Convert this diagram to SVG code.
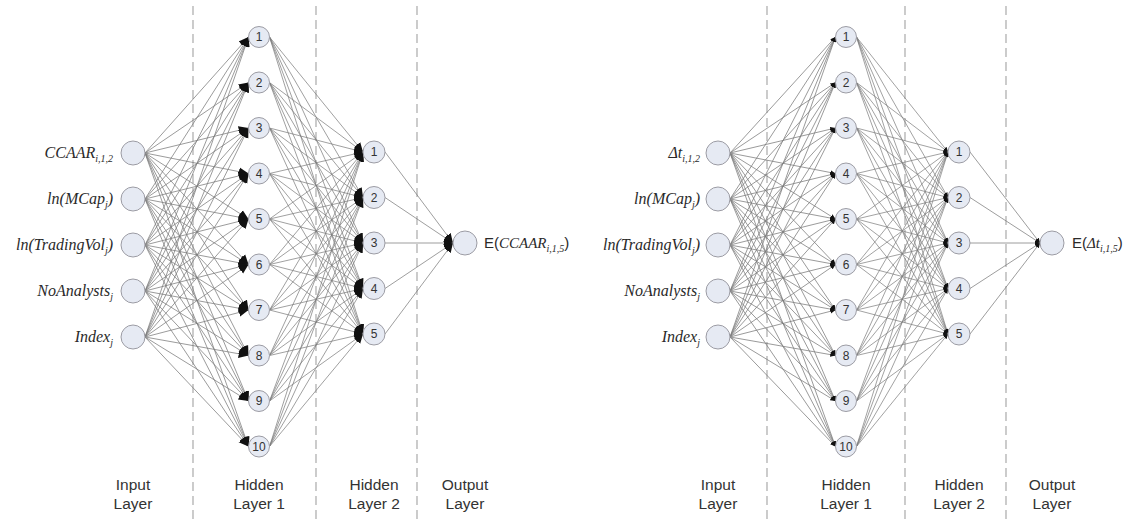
<svg xmlns="http://www.w3.org/2000/svg" xmlns:xlink="http://www.w3.org/1999/xlink" width="1130" height="527" viewBox="0 0 1130 527">
<style>
.n{fill:#e6eaf3;stroke:#9c9ca4;stroke-width:1}
.num{font-family:"Liberation Sans",Arial,sans-serif;font-size:12px;fill:#333;text-anchor:middle}
.inl{font-family:"Liberation Serif","Times New Roman",serif;font-style:italic;font-size:16px;fill:#2a2a2a;text-anchor:end}
.sub{font-size:10px}
.outl{font-family:"Liberation Sans",Arial,sans-serif;font-size:15px;fill:#2a2a2a}
.it{font-family:"Liberation Serif","Times New Roman",serif;font-style:italic}
.lay{font-family:"Liberation Sans",Arial,sans-serif;font-size:15.5px;fill:#333;text-anchor:middle}
.dash{stroke:#aaa;stroke-width:1.2;stroke-dasharray:9 5}
.conn{stroke:#7c7c7c;stroke-width:0.75;fill:none}
.big{marker-end:url(#ahBig)}
.small{marker-end:url(#ahSmall)}
</style>
<defs>
<marker id="ahBig" viewBox="0 0 10 10" refX="10" refY="5" markerWidth="9.5" markerHeight="9.5" markerUnits="userSpaceOnUse" orient="auto"><path d="M0,0.5 L10,5 L0,9.5 z" fill="#111"/></marker>
<marker id="ahSmall" viewBox="0 0 10 10" refX="10" refY="5" markerWidth="5" markerHeight="5" markerUnits="userSpaceOnUse" orient="auto"><path d="M0,0.5 L10,5 L0,9.5 z" fill="#111"/></marker>
<g id="c1">
<line x1="0" y1="153" x2="100" y2="37"/><line x1="0" y1="153" x2="100" y2="82.5"/><line x1="0" y1="153" x2="100" y2="128"/><line x1="0" y1="153" x2="100" y2="173.5"/><line x1="0" y1="153" x2="100" y2="219"/><line x1="0" y1="153" x2="100" y2="264.5"/><line x1="0" y1="153" x2="100" y2="310"/><line x1="0" y1="153" x2="100" y2="355.5"/><line x1="0" y1="153" x2="100" y2="401"/><line x1="0" y1="153" x2="100" y2="446.5"/>
<line x1="0" y1="199" x2="100" y2="37"/><line x1="0" y1="199" x2="100" y2="82.5"/><line x1="0" y1="199" x2="100" y2="128"/><line x1="0" y1="199" x2="100" y2="173.5"/><line x1="0" y1="199" x2="100" y2="219"/><line x1="0" y1="199" x2="100" y2="264.5"/><line x1="0" y1="199" x2="100" y2="310"/><line x1="0" y1="199" x2="100" y2="355.5"/><line x1="0" y1="199" x2="100" y2="401"/><line x1="0" y1="199" x2="100" y2="446.5"/>
<line x1="0" y1="245" x2="100" y2="37"/><line x1="0" y1="245" x2="100" y2="82.5"/><line x1="0" y1="245" x2="100" y2="128"/><line x1="0" y1="245" x2="100" y2="173.5"/><line x1="0" y1="245" x2="100" y2="219"/><line x1="0" y1="245" x2="100" y2="264.5"/><line x1="0" y1="245" x2="100" y2="310"/><line x1="0" y1="245" x2="100" y2="355.5"/><line x1="0" y1="245" x2="100" y2="401"/><line x1="0" y1="245" x2="100" y2="446.5"/>
<line x1="0" y1="291" x2="100" y2="37"/><line x1="0" y1="291" x2="100" y2="82.5"/><line x1="0" y1="291" x2="100" y2="128"/><line x1="0" y1="291" x2="100" y2="173.5"/><line x1="0" y1="291" x2="100" y2="219"/><line x1="0" y1="291" x2="100" y2="264.5"/><line x1="0" y1="291" x2="100" y2="310"/><line x1="0" y1="291" x2="100" y2="355.5"/><line x1="0" y1="291" x2="100" y2="401"/><line x1="0" y1="291" x2="100" y2="446.5"/>
<line x1="0" y1="337" x2="100" y2="37"/><line x1="0" y1="337" x2="100" y2="82.5"/><line x1="0" y1="337" x2="100" y2="128"/><line x1="0" y1="337" x2="100" y2="173.5"/><line x1="0" y1="337" x2="100" y2="219"/><line x1="0" y1="337" x2="100" y2="264.5"/><line x1="0" y1="337" x2="100" y2="310"/><line x1="0" y1="337" x2="100" y2="355.5"/><line x1="0" y1="337" x2="100" y2="401"/><line x1="0" y1="337" x2="100" y2="446.5"/>
</g>
<g id="c2">
<line x1="0" y1="37" x2="100" y2="152"/><line x1="0" y1="37" x2="100" y2="197.5"/><line x1="0" y1="37" x2="100" y2="243"/><line x1="0" y1="37" x2="100" y2="288.5"/><line x1="0" y1="37" x2="100" y2="334"/>
<line x1="0" y1="82.5" x2="100" y2="152"/><line x1="0" y1="82.5" x2="100" y2="197.5"/><line x1="0" y1="82.5" x2="100" y2="243"/><line x1="0" y1="82.5" x2="100" y2="288.5"/><line x1="0" y1="82.5" x2="100" y2="334"/>
<line x1="0" y1="128" x2="100" y2="152"/><line x1="0" y1="128" x2="100" y2="197.5"/><line x1="0" y1="128" x2="100" y2="243"/><line x1="0" y1="128" x2="100" y2="288.5"/><line x1="0" y1="128" x2="100" y2="334"/>
<line x1="0" y1="173.5" x2="100" y2="152"/><line x1="0" y1="173.5" x2="100" y2="197.5"/><line x1="0" y1="173.5" x2="100" y2="243"/><line x1="0" y1="173.5" x2="100" y2="288.5"/><line x1="0" y1="173.5" x2="100" y2="334"/>
<line x1="0" y1="219" x2="100" y2="152"/><line x1="0" y1="219" x2="100" y2="197.5"/><line x1="0" y1="219" x2="100" y2="243"/><line x1="0" y1="219" x2="100" y2="288.5"/><line x1="0" y1="219" x2="100" y2="334"/>
<line x1="0" y1="264.5" x2="100" y2="152"/><line x1="0" y1="264.5" x2="100" y2="197.5"/><line x1="0" y1="264.5" x2="100" y2="243"/><line x1="0" y1="264.5" x2="100" y2="288.5"/><line x1="0" y1="264.5" x2="100" y2="334"/>
<line x1="0" y1="310" x2="100" y2="152"/><line x1="0" y1="310" x2="100" y2="197.5"/><line x1="0" y1="310" x2="100" y2="243"/><line x1="0" y1="310" x2="100" y2="288.5"/><line x1="0" y1="310" x2="100" y2="334"/>
<line x1="0" y1="355.5" x2="100" y2="152"/><line x1="0" y1="355.5" x2="100" y2="197.5"/><line x1="0" y1="355.5" x2="100" y2="243"/><line x1="0" y1="355.5" x2="100" y2="288.5"/><line x1="0" y1="355.5" x2="100" y2="334"/>
<line x1="0" y1="401" x2="100" y2="152"/><line x1="0" y1="401" x2="100" y2="197.5"/><line x1="0" y1="401" x2="100" y2="243"/><line x1="0" y1="401" x2="100" y2="288.5"/><line x1="0" y1="401" x2="100" y2="334"/>
<line x1="0" y1="446.5" x2="100" y2="152"/><line x1="0" y1="446.5" x2="100" y2="197.5"/><line x1="0" y1="446.5" x2="100" y2="243"/><line x1="0" y1="446.5" x2="100" y2="288.5"/><line x1="0" y1="446.5" x2="100" y2="334"/>
</g>
<g id="c3">
<line x1="0" y1="152" x2="70" y2="243"/><line x1="0" y1="197.5" x2="70" y2="243"/><line x1="0" y1="243" x2="70" y2="243"/><line x1="0" y1="288.5" x2="70" y2="243"/><line x1="0" y1="334" x2="70" y2="243"/>
</g>
</defs>

<g id="layer-dividers">
<line class="dash" x1="193" y1="6" x2="193" y2="522"/>
<line class="dash" x1="316" y1="6" x2="316" y2="522"/>
<line class="dash" x1="417" y1="6" x2="417" y2="522"/>
<line class="dash" x1="767" y1="6" x2="767" y2="522"/>
<line class="dash" x1="905" y1="6" x2="905" y2="522"/>
<line class="dash" x1="1006" y1="6" x2="1006" y2="522"/>
</g>

<g id="connectors" class="conn">
<use xlink:href="#c1" href="#c1" class="big" transform="translate(145,0) scale(1.035,1)"/>
<use xlink:href="#c2" href="#c2" class="big" transform="translate(269.5,0) scale(0.935,1)"/>
<use xlink:href="#c3" href="#c3" class="big" transform="translate(385,0) scale(0.971,1)"/>
<use xlink:href="#c1" href="#c1" class="small" transform="translate(730,0) scale(1.055,1)"/>
<use xlink:href="#c2" href="#c2" class="small" transform="translate(856.5,0) scale(0.915,1)"/>
<use xlink:href="#c3" href="#c3" class="small" transform="translate(970,0)"/>
</g>

<!-- Left network -->
<g id="L-in1"><circle class="n" cx="133" cy="153" r="12"/><text class="inl" x="113" y="158">CCAAR<tspan class="sub" dy="4">i,1,2</tspan></text></g>
<g id="L-in2"><circle class="n" cx="133" cy="199" r="12"/><text class="inl" x="113" y="204">ln(MCap<tspan class="sub" dy="4">j</tspan><tspan dy="-4">)</tspan></text></g>
<g id="L-in3"><circle class="n" cx="133" cy="245" r="12"/><text class="inl" x="113" y="250">ln(TradingVol<tspan class="sub" dy="4">j</tspan><tspan dy="-4">)</tspan></text></g>
<g id="L-in4"><circle class="n" cx="133" cy="291" r="12"/><text class="inl" x="113" y="296">NoAnalysts<tspan class="sub" dy="4">j</tspan></text></g>
<g id="L-in5"><circle class="n" cx="133" cy="337" r="12"/><text class="inl" x="113" y="342">Index<tspan class="sub" dy="4">j</tspan></text></g>

<g id="L-h1-1"><circle class="n" cx="259" cy="37" r="10.5"/><text class="num" x="259" y="41">1</text></g>
<g id="L-h1-2"><circle class="n" cx="259" cy="82.5" r="10.5"/><text class="num" x="259" y="86.5">2</text></g>
<g id="L-h1-3"><circle class="n" cx="259" cy="128" r="10.5"/><text class="num" x="259" y="132">3</text></g>
<g id="L-h1-4"><circle class="n" cx="259" cy="173.5" r="10.5"/><text class="num" x="259" y="177.5">4</text></g>
<g id="L-h1-5"><circle class="n" cx="259" cy="219" r="10.5"/><text class="num" x="259" y="223">5</text></g>
<g id="L-h1-6"><circle class="n" cx="259" cy="264.5" r="10.5"/><text class="num" x="259" y="268.5">6</text></g>
<g id="L-h1-7"><circle class="n" cx="259" cy="310" r="10.5"/><text class="num" x="259" y="314">7</text></g>
<g id="L-h1-8"><circle class="n" cx="259" cy="355.5" r="10.5"/><text class="num" x="259" y="359.5">8</text></g>
<g id="L-h1-9"><circle class="n" cx="259" cy="401" r="10.5"/><text class="num" x="259" y="405">9</text></g>
<g id="L-h1-10"><circle class="n" cx="259" cy="446.5" r="10.5"/><text class="num" x="259" y="450.5">10</text></g>

<g id="L-h2-1"><circle class="n" cx="374" cy="152" r="11"/><text class="num" x="374" y="156">1</text></g>
<g id="L-h2-2"><circle class="n" cx="374" cy="197.5" r="11"/><text class="num" x="374" y="201.5">2</text></g>
<g id="L-h2-3"><circle class="n" cx="374" cy="243" r="11"/><text class="num" x="374" y="247">3</text></g>
<g id="L-h2-4"><circle class="n" cx="374" cy="288.5" r="11"/><text class="num" x="374" y="292.5">4</text></g>
<g id="L-h2-5"><circle class="n" cx="374" cy="334" r="11"/><text class="num" x="374" y="338">5</text></g>

<g id="L-out"><circle class="n" cx="465" cy="243" r="12"/><text class="outl" x="484" y="248">E(<tspan class="it">CCAAR</tspan><tspan class="it sub" dy="4">i,1,5</tspan><tspan dy="-4">)</tspan></text></g>

<g id="L-labels">
<text class="lay" x="133" y="490">Input</text><text class="lay" x="133" y="509">Layer</text>
<text class="lay" x="259" y="490">Hidden</text><text class="lay" x="259" y="509">Layer 1</text>
<text class="lay" x="374" y="490">Hidden</text><text class="lay" x="374" y="509">Layer 2</text>
<text class="lay" x="465" y="490">Output</text><text class="lay" x="465" y="509">Layer</text>
</g>

<!-- Right network -->
<g id="R-in1"><circle class="n" cx="718" cy="153" r="12"/><text class="inl" x="700" y="158">Δt<tspan class="sub" dy="4">i,1,2</tspan></text></g>
<g id="R-in2"><circle class="n" cx="718" cy="199" r="12"/><text class="inl" x="700" y="204">ln(MCap<tspan class="sub" dy="4">j</tspan><tspan dy="-4">)</tspan></text></g>
<g id="R-in3"><circle class="n" cx="718" cy="245" r="12"/><text class="inl" x="700" y="250">ln(TradingVol<tspan class="sub" dy="4">j</tspan><tspan dy="-4">)</tspan></text></g>
<g id="R-in4"><circle class="n" cx="718" cy="291" r="12"/><text class="inl" x="700" y="296">NoAnalysts<tspan class="sub" dy="4">j</tspan></text></g>
<g id="R-in5"><circle class="n" cx="718" cy="337" r="12"/><text class="inl" x="700" y="342">Index<tspan class="sub" dy="4">j</tspan></text></g>

<g id="R-h1-1"><circle class="n" cx="846" cy="37" r="10.5"/><text class="num" x="846" y="41">1</text></g>
<g id="R-h1-2"><circle class="n" cx="846" cy="82.5" r="10.5"/><text class="num" x="846" y="86.5">2</text></g>
<g id="R-h1-3"><circle class="n" cx="846" cy="128" r="10.5"/><text class="num" x="846" y="132">3</text></g>
<g id="R-h1-4"><circle class="n" cx="846" cy="173.5" r="10.5"/><text class="num" x="846" y="177.5">4</text></g>
<g id="R-h1-5"><circle class="n" cx="846" cy="219" r="10.5"/><text class="num" x="846" y="223">5</text></g>
<g id="R-h1-6"><circle class="n" cx="846" cy="264.5" r="10.5"/><text class="num" x="846" y="268.5">6</text></g>
<g id="R-h1-7"><circle class="n" cx="846" cy="310" r="10.5"/><text class="num" x="846" y="314">7</text></g>
<g id="R-h1-8"><circle class="n" cx="846" cy="355.5" r="10.5"/><text class="num" x="846" y="359.5">8</text></g>
<g id="R-h1-9"><circle class="n" cx="846" cy="401" r="10.5"/><text class="num" x="846" y="405">9</text></g>
<g id="R-h1-10"><circle class="n" cx="846" cy="446.5" r="10.5"/><text class="num" x="846" y="450.5">10</text></g>

<g id="R-h2-1"><circle class="n" cx="959" cy="152" r="11"/><text class="num" x="959" y="156">1</text></g>
<g id="R-h2-2"><circle class="n" cx="959" cy="197.5" r="11"/><text class="num" x="959" y="201.5">2</text></g>
<g id="R-h2-3"><circle class="n" cx="959" cy="243" r="11"/><text class="num" x="959" y="247">3</text></g>
<g id="R-h2-4"><circle class="n" cx="959" cy="288.5" r="11"/><text class="num" x="959" y="292.5">4</text></g>
<g id="R-h2-5"><circle class="n" cx="959" cy="334" r="11"/><text class="num" x="959" y="338">5</text></g>

<g id="R-out"><circle class="n" cx="1052" cy="243" r="12"/><text class="outl" x="1072" y="248">E(<tspan class="it">Δt</tspan><tspan class="it sub" dy="4">i,1,5</tspan><tspan dy="-4">)</tspan></text></g>

<g id="R-labels">
<text class="lay" x="718" y="490">Input</text><text class="lay" x="718" y="509">Layer</text>
<text class="lay" x="846" y="490">Hidden</text><text class="lay" x="846" y="509">Layer 1</text>
<text class="lay" x="959" y="490">Hidden</text><text class="lay" x="959" y="509">Layer 2</text>
<text class="lay" x="1052" y="490">Output</text><text class="lay" x="1052" y="509">Layer</text>
</g>
</svg>
